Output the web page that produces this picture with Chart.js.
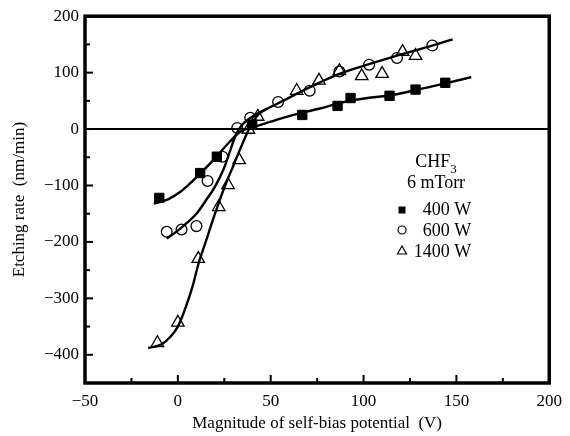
<!DOCTYPE html>
<html>
<head>
<meta charset="utf-8">
<script src="https://cdn.jsdelivr.net/npm/chart.js@4"></script>
<style>
  html, body { margin: 0; padding: 0; background: #fff; }
</style>
</head>
<body>
<canvas id="chart" width="570" height="436"></canvas>
<script>
const x400 = [-10, 12, 21, 40, 67, 86, 93, 114, 128, 144];
const y400 = [-122, -78, -49, 8, 25, 41, 55, 59, 70, 82];
const x600 = [-6, 2, 10, 16, 24, 32, 39, 54, 71, 87, 103, 118, 137];
const y600 = [-182, -178, -172, -92, -49, 2, 20, 48, 68, 102, 114, 126, 148];
const x1400 = [-11, 0, 11, 22, 27, 33, 38, 43, 64, 76, 87, 99, 110, 121, 128];
const y1400 = [-379, -343, -230, -138, -99, -55, -1, 22, 68, 86, 103, 94, 98, 137, 130];

// fitted curves as drawn in the figure
const fit400X = [-13, -5, 1, 6, 12, 20, 28, 34, 40, 50, 58, 67, 76, 86, 94, 104, 113, 128, 144, 158];
const fit400Y = [-132, -124, -112, -98, -79, -52, -22, -4, 3, 13, 21, 29, 36, 45, 51, 56, 59, 69, 81, 92];
const fit600X = [-6, 0, 5, 10, 15, 20, 25, 28, 31, 34, 37, 40, 48, 56, 66, 76, 87, 103, 118, 137, 148];
const fit600Y = [-194, -180, -166, -150, -127, -102, -68, -40, -12, 5, 15, 22, 36, 49, 66, 82, 98, 115, 130, 148, 159];
const fit1400X = [-16, -9, -4, 0, 4, 8, 11, 15, 20, 25, 30, 34, 38, 41, 44, 48];
const fit1400Y = [-388, -382, -368, -350, -318, -278, -240, -200, -150, -104, -64, -32, -2, 16, 28, 36];

const seriesNames = ["400 W", "600 W", "1400 W"];
const gasLabel = "CHF";
const gasSub = "3";
const pressureLabel = "6 mTorr";

const FONT = "'Liberation Serif', 'Times New Roman', serif";

function toPts(xs, ys) {
    return xs.map((v, i) => ({ x: v, y: ys[i] }));
}

function fmt(v) {
    return v < 0 ? "\u2212" + Math.abs(v) : String(v);
}

function fitLine(xs, ys) {
    return {
        type: "line",
        data: toPts(xs, ys),
        borderColor: "#000",
        borderWidth: 2.4,
        pointRadius: 0,
        fill: false,
        cubicInterpolationMode: "monotone",
        order: 2
    };
}

// frame, zero line, inward ticks and the legend block
const framePlugin = {
    id: "frame",
    afterDatasetsDraw(chart) {
        const { ctx, chartArea: a, scales: { x, y } } = chart;
        ctx.save();
        ctx.strokeStyle = "#000";
        ctx.fillStyle = "#000";

        const y0 = y.getPixelForValue(0);
        ctx.lineWidth = 2;
        ctx.beginPath();
        ctx.moveTo(a.left, y0);
        ctx.lineTo(a.right, y0);
        ctx.stroke();

        ctx.lineWidth = 2;
        x.ticks.forEach(t => {
            const px = x.getPixelForValue(t.value);
            const len = t.value % 50 === 0 ? 8 : 5;
            ctx.beginPath();
            ctx.moveTo(px, a.bottom);
            ctx.lineTo(px, a.bottom - len);
            ctx.stroke();
        });
        y.ticks.forEach(t => {
            const py = y.getPixelForValue(t.value);
            const len = t.value % 100 === 0 ? 8 : 5;
            ctx.beginPath();
            ctx.moveTo(a.left, py);
            ctx.lineTo(a.left + len, py);
            ctx.stroke();
        });

        ctx.lineWidth = 3.5;
        ctx.strokeRect(a.left, a.top, a.right - a.left, a.bottom - a.top);

        // legend
        const rx = a.right - 78;
        ctx.font = "18px " + FONT;
        ctx.textBaseline = "alphabetic";
        ctx.textAlign = "left";
        const gw = ctx.measureText(gasLabel).width;
        ctx.font = "13px " + FONT;
        const sw = ctx.measureText(gasSub).width;
        const gx = 436 - (gw + sw) / 2;
        ctx.font = "18px " + FONT;
        ctx.fillText(gasLabel, gx, 167);
        ctx.font = "13px " + FONT;
        ctx.fillText(gasSub, gx + gw, 173);
        ctx.font = "18px " + FONT;
        ctx.textAlign = "center";
        ctx.fillText(pressureLabel, 436, 188);

        ctx.textAlign = "right";
        const rows = [215, 236, 257];
        rows.forEach((by, i) => ctx.fillText(seriesNames[i], rx, by));

        const mx = 402;
        ctx.lineWidth = 1.2;
        ctx.fillRect(mx - 3.5, 210 - 3.5, 7, 7);
        ctx.beginPath();
        ctx.arc(mx, 230, 4, 0, Math.PI * 2);
        ctx.stroke();
        ctx.beginPath();
        ctx.moveTo(mx, 246);
        ctx.lineTo(mx + 4.5, 254);
        ctx.lineTo(mx - 4.5, 254);
        ctx.closePath();
        ctx.stroke();

        ctx.restore();
    }
};

new Chart(document.getElementById("chart"), {
    type: "scatter",
    data: {
        datasets: [
            {
                data: toPts(x400, y400),
                pointStyle: "rect",
                pointRadius: 6.6,
                backgroundColor: "#000",
                borderColor: "#000",
                borderWidth: 1,
                order: 1
            },
            {
                data: toPts(x600, y600),
                pointStyle: "circle",
                pointRadius: 5.4,
                backgroundColor: "rgba(0,0,0,0)",
                borderColor: "#000",
                borderWidth: 1.3,
                order: 1
            },
            {
                data: toPts(x1400, y1400),
                pointStyle: "triangle",
                pointRadius: 7.2,
                backgroundColor: "rgba(0,0,0,0)",
                borderColor: "#000",
                borderWidth: 1.3,
                order: 1
            },
            fitLine(fit400X, fit400Y),
            fitLine(fit600X, fit600Y),
            fitLine(fit1400X, fit1400Y)
        ]
    },
    options: {
        responsive: false,
        animation: false,
        layout: { padding: { top: 16, right: 13, left: 0, bottom: 0 } },
        plugins: {
            legend: { display: false },
            tooltip: { enabled: false }
        },
        scales: {
            x: {
                type: "linear",
                min: -50,
                max: 200,
                grid: { display: false, drawTicks: false },
                border: { display: false },
                ticks: {
                    stepSize: 25,
                    autoSkip: false,
                    maxRotation: 0,
                    padding: 8,
                    color: "#000",
                    font: { family: FONT, size: 17 },
                    callback: v => (v % 50 === 0 ? fmt(v) : "")
                },
                title: {
                    display: true,
                    text: "Magnitude of self-bias potential  (V)",
                    color: "#000",
                    font: { family: FONT, size: 17 },
                    padding: { top: 0, bottom: 2 }
                },
                afterFit: s => { s.height = 53; }
            },
            y: {
                type: "linear",
                min: -450,
                max: 200,
                grid: { display: false, drawTicks: false },
                border: { display: false },
                ticks: {
                    stepSize: 50,
                    autoSkip: false,
                    padding: 6,
                    color: "#000",
                    font: { family: FONT, size: 17 },
                    callback: v => (v % 100 === 0 ? fmt(v) : "")
                },
                title: {
                    display: true,
                    text: "Etching rate  (nm/min)",
                    color: "#000",
                    font: { family: FONT, size: 17 },
                    padding: { top: 9, bottom: 0 }
                },
                afterFit: s => { s.width = 85; }
            }
        }
    },
    plugins: [framePlugin]
});
</script>
</body>
</html>
